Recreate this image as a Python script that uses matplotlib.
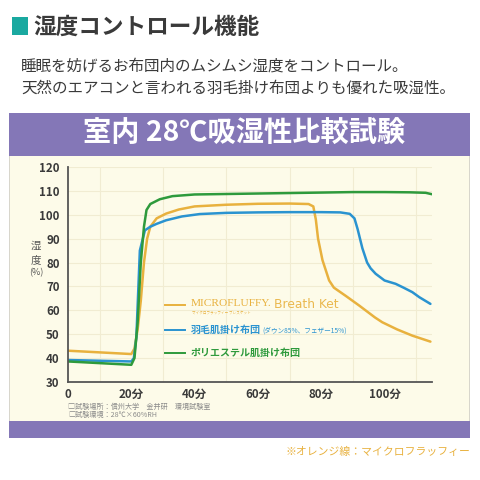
import matplotlib.pyplot as plt
import matplotlib.patches as mpatches

plt.rcParams['font.family'] = ['Noto Sans CJK JP', 'DejaVu Sans']

# data (minutes, humidity %)
orange_t = [0, 10, 20, 21, 22, 23, 24, 25, 26, 28, 31, 35, 40, 50, 60, 70, 76, 77.5, 78.3, 79, 80.4, 82.5, 84, 87.8, 92, 97, 99.3, 104, 108.8, 112, 114.5]
orange_v = [43.1, 42.4, 41.7, 44, 52, 64, 80, 90, 95, 98.5, 100.5, 102.2, 103.5, 104.2, 104.6, 104.7, 104.5, 103.5, 98, 90, 81, 72.5, 69.5, 66, 62, 57, 55, 52, 49.4, 48, 46.9]

blue_t = [0, 10, 20, 20.8, 21.6, 22.7, 24.3, 26, 28, 31, 36, 41.6, 50, 60, 70, 80, 86, 89, 90.5, 91.5, 93, 94.5, 95.6, 97.2, 100, 103.5, 106, 108.8, 111, 114.5]
blue_v = [39.2, 38.9, 38.6, 40, 48.7, 85, 93.5, 95, 96.2, 97.7, 99.3, 100.3, 100.8, 101, 101.1, 101.1, 101, 100.4, 98.5, 94, 86, 80, 77.6, 75.3, 72.5, 71.1, 69.5, 67.6, 65.5, 62.7]

green_t = [0, 10, 20, 21, 22, 23, 24, 24.8, 26, 29, 33, 40, 50, 60, 70, 80, 90, 100, 108, 113, 115]
green_v = [38.6, 37.9, 37.2, 40, 55, 80, 95, 102, 104.5, 106.5, 107.8, 108.5, 108.7, 108.9, 109.1, 109.3, 109.5, 109.5, 109.4, 109.2, 108.6]

x_ticks = [0, 20, 40, 60, 80, 100]
x_tick_labels = ['0', '20分', '40分', '60分', '80分', '100分']
y_ticks = [30, 40, 50, 60, 70, 80, 90, 100, 110, 120]

ORANGE = '#e8b13e'
BLUE = '#2a93d0'
GREEN = '#2e9a3c'
PURPLE = '#8477b7'
CREAM = '#fdfbe9'
DARK = '#3a3a3a'

fig = plt.figure(figsize=(4.8, 4.8), dpi=100, facecolor='white')


def px(x, y):
    """pixel (top-left origin) -> figure fraction"""
    return x / 480, 1 - y / 480


def rect(x0, y0, x1, y1, color):
    fx, fy = px(x0, y1)
    fig.patches.append(mpatches.Rectangle((fx, fy), (x1 - x0) / 480, (y1 - y0) / 480,
                                          transform=fig.transFigure, facecolor=color,
                                          edgecolor='none', zorder=-5))


# heading
rect(12, 17, 28, 35, '#1aa9a0')
fig.text(*px(33, 27), '湿度コントロール機能', fontsize=16.3, fontweight='bold',
         color=DARK, va='center', ha='left')
fig.text(*px(21, 66), '睡眠を妨げるお布団内のムシムシ湿度をコントロール。', fontsize=11.2,
         color=DARK, va='center', ha='left')
fig.text(*px(21, 88), '天然のエアコンと言われる羽毛掛け布団よりも優れた吸湿性。', fontsize=11.2,
         color=DARK, va='center', ha='left')

# framed panel
rect(9, 113, 470, 438, '#d8d6cc')
rect(10, 155, 469, 421, CREAM)
rect(9, 113, 470, 156, PURPLE)
rect(9, 421, 470, 438, PURPLE)
fig.text(*px(244, 134), '室内 28℃吸湿性比較試験', fontsize=20.3, fontweight='bold',
         color='white', va='center', ha='center')

# chart
ax = fig.add_axes([68 / 480, 1 - 382 / 480, (432 - 68) / 480, (382 - 167) / 480])
ax.set_zorder(2)
ax.set_facecolor(CREAM)
ax.set_xlim(0, 115)
ax.set_ylim(30, 120)
ax.set_xticks(range(0, 116, 10), minor=True)
ax.set_yticks(y_ticks)
ax.set_xticks(x_ticks)
ax.set_xticklabels(x_tick_labels)
ax.grid(True, which='minor', axis='x', color='#f1ecd2', linewidth=0.8)
ax.grid(True, which='major', axis='y', color='#f1ecd2', linewidth=0.8)
ax.set_axisbelow(True)
for side in ('top', 'right'):
    ax.spines[side].set_visible(False)
for side in ('left', 'bottom'):
    ax.spines[side].set_color('#555555')
    ax.spines[side].set_linewidth(1.3)
ax.tick_params(which='both', length=0)
ax.tick_params(axis='y', pad=6, labelsize=8.3, labelcolor=DARK)
ax.tick_params(axis='x', pad=4, labelsize=8.3, labelcolor=DARK)
for lab in ax.get_xticklabels() + ax.get_yticklabels():
    lab.set_fontweight('bold')

ax.plot(orange_t, orange_v, color=ORANGE, lw=1.8, solid_capstyle='round')
ax.plot(blue_t, blue_v, color=BLUE, lw=1.8, solid_capstyle='round')
ax.plot(green_t, green_v, color=GREEN, lw=1.8, solid_capstyle='round')

# y label, stacked vertically
fig.text(*px(36, 246), '湿', fontsize=7.5, color='#555555', ha='center', va='center')
fig.text(*px(36, 260), '度', fontsize=7.5, color='#555555', ha='center', va='center')
fig.text(*px(36, 273), '(%)', fontsize=6.5, color='#555555', ha='center', va='center')

# legend drawn by hand
for y, col in ((305, ORANGE), (330, BLUE), (353, GREEN)):
    fig.lines.append(plt.Line2D([165 / 480, 185 / 480], [1 - y / 480] * 2,
                                transform=fig.transFigure, color=col, lw=1.4))
fig.text(*px(191, 304), 'MICROFLUFFY.', family='Liberation Serif', fontsize=8.2,
         color=ORANGE, ha='left', va='center')
fig.text(*px(274, 304), 'Breath Ket', family='DejaVu Sans', fontsize=8.8,
         color=ORANGE, ha='left', va='center', alpha=0.9)
fig.text(*px(192, 313), 'マイクロフラッフィー ブレスケット', fontsize=2.6,
         color=ORANGE, ha='left', va='center')
fig.text(*px(191, 330), '羽毛肌掛け布団', fontsize=7.2, fontweight='bold',
         color=BLUE, ha='left', va='center')
fig.text(*px(262, 331), '(ダウン85%、フェザー15%)', fontsize=4.8,
         color=BLUE, ha='left', va='center')
fig.text(*px(191, 353), 'ポリエステル肌掛け布団', fontsize=7.2, fontweight='bold',
         color=GREEN, ha='left', va='center')

# test notes
fig.text(*px(68, 407), '□試験場所：信州大学　金井研　環境試験室', fontsize=5.1,
         color='#8a8a8a', ha='left', va='center')
fig.text(*px(68, 415), '□試験環境：28℃×60%RH', fontsize=5.1,
         color='#8a8a8a', ha='left', va='center')

fig.text(*px(470, 452), '※オレンジ線：マイクロフラッフィー', fontsize=7.8,
         color=ORANGE, ha='right', va='center')

plt.savefig('out.png', dpi=100, facecolor='white')
